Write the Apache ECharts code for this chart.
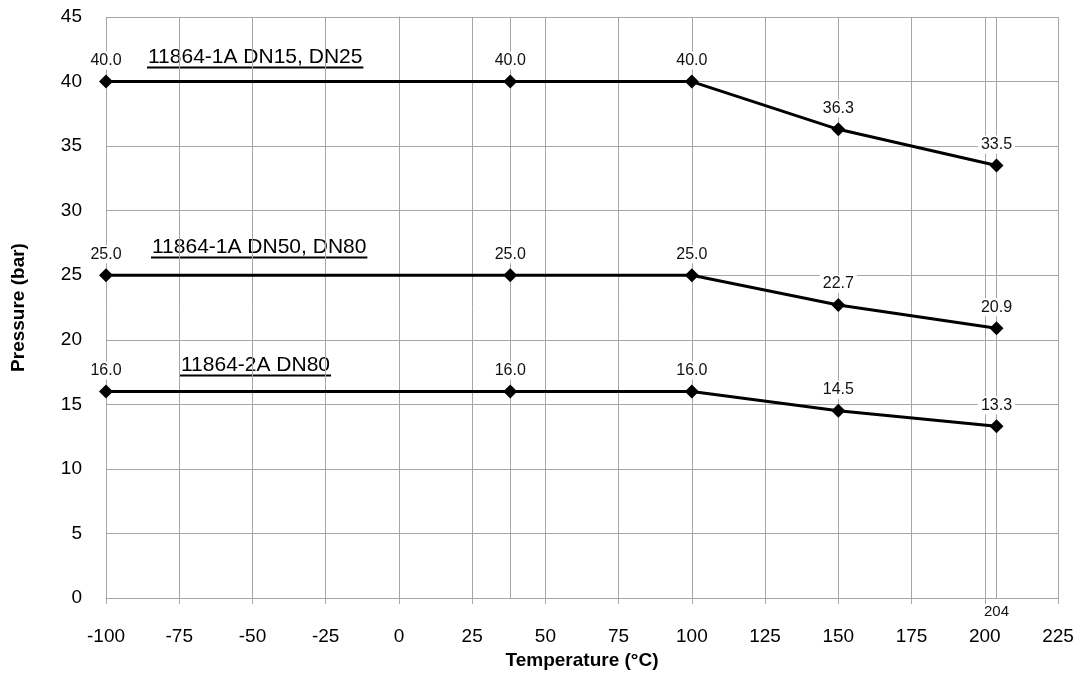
<!DOCTYPE html>
<html>
<head>
<meta charset="utf-8">
<script src="https://cdn.jsdelivr.net/npm/echarts@6/dist/echarts.min.js"></script>
<style>
  html, body { margin: 0; padding: 0; background: #fff; }
  #chart { width: 1079px; height: 675px; }
</style>
</head>
<body>
<div id="chart"></div>
<script>
// temperatures (°C) and pressures (bar)
var temps = [-100, 38, 100, 150, 204];
var dn15dn25 = [40.0, 40.0, 40.0, 36.3, 33.5];
var dn50dn80 = [25.0, 25.0, 25.0, 22.7, 20.9];
var dn80_2a = [16.0, 16.0, 16.0, 14.5, 13.3];
var seriesNames = ['11864-1A DN15, DN25', '11864-1A DN50, DN80', '11864-2A DN80'];
var extraLines = [38, 204];

var font = 'Liberation Sans, Arial, sans-serif';
var gridColor = '#a6a6a6';

function pairs(vals) {
  return temps.map(function (t, i) { return [t, vals[i]]; });
}

function lineSeries(name, vals) {
  return {
    name: name,
    type: 'line',
    zlevel: 1,
    data: pairs(vals),
    symbol: 'diamond',
    symbolSize: 14,
    lineStyle: { color: '#000', width: 3 },
    itemStyle: { color: '#000' },
    label: {
      show: true,
      position: 'top',
      distance: 5,
      fontFamily: font,
      fontSize: 16,
      color: '#111',
      backgroundColor: '#fff',
      padding: [1, 3],
      formatter: function (p) { return p.value[1].toFixed(1); }
    }
  };
}

// underlined series name annotations
var measure = document.createElement('canvas').getContext('2d');
function tag(text, x, y) {
  measure.font = '21px ' + font;
  var w = measure.measureText(text).width;
  return {
    type: 'group',
    zlevel: 1,
    children: [
      { type: 'text', x: x, y: y, style: { text: text, font: '21px ' + font, fill: '#000', verticalAlign: 'middle' } },
      { type: 'rect', shape: { x: x - 1, y: y + 9.5, width: w + 2, height: 2 }, style: { fill: '#000' } }
    ]
  };
}

var chart = echarts.init(document.getElementById('chart'));
chart.setOption({
  animation: false,
  grid: { left: 106, right: 21, top: 17, bottom: 77 },
  xAxis: {
    type: 'value',
    min: -100,
    max: 225,
    interval: 25,
    name: 'Temperature (°C)',
    nameLocation: 'middle',
    nameGap: 52,
    nameTextStyle: { fontFamily: font, fontSize: 19, fontWeight: 'bold', color: '#000' },
    axisLine: { show: true, lineStyle: { color: gridColor } },
    axisTick: { show: true, length: 6, lineStyle: { color: gridColor } },
    axisLabel: { fontFamily: font, fontSize: 19, color: '#000', margin: 29 },
    splitLine: { show: true, lineStyle: { color: gridColor, width: 1 } }
  },
  yAxis: {
    type: 'value',
    min: 0,
    max: 45,
    interval: 5,
    name: 'Pressure (bar)',
    nameLocation: 'middle',
    nameGap: 78,
    nameTextStyle: { fontFamily: font, fontSize: 19, fontWeight: 'bold', color: '#000' },
    axisLine: { show: true, lineStyle: { color: gridColor } },
    axisTick: { show: false },
    axisLabel: { fontFamily: font, fontSize: 19, color: '#000', margin: 24 },
    splitLine: { show: true, lineStyle: { color: gridColor, width: 1 } }
  },
  series: [
    {
      type: 'line',
      data: [],
      markLine: {
        silent: true,
        symbol: 'none',
        animation: false,
        lineStyle: { color: gridColor, width: 1, type: 'solid' },
        data: extraLines.map(function (v) {
          return {
            xAxis: v,
            label: v === 204
              ? { show: true, position: 'start', distance: 6, formatter: String(v), fontFamily: font, fontSize: 15, color: '#111' }
              : { show: false }
          };
        })
      }
    },
    lineSeries(seriesNames[0], dn15dn25),
    lineSeries(seriesNames[1], dn50dn80),
    lineSeries(seriesNames[2], dn80_2a)
  ],
  graphic: [
    tag(seriesNames[0], 148, 57),
    tag(seriesNames[1], 152, 247),
    tag(seriesNames[2], 181, 365)
  ]
});
</script>
</body>
</html>
